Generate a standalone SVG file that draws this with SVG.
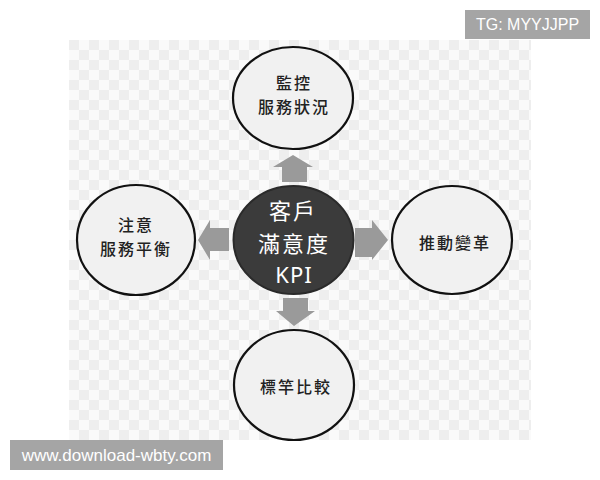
<svg xmlns="http://www.w3.org/2000/svg" width="600" height="480" viewBox="0 0 600 480">
  <defs>
    <pattern id="checker" x="69" y="40" width="20" height="20" patternUnits="userSpaceOnUse">
      <rect width="20" height="20" fill="#fafafa"/>
      <rect width="10" height="10" fill="#eeeeee"/>
      <rect x="10" y="10" width="10" height="10" fill="#eeeeee"/>
    </pattern>
    <style>
      .node { fill: #f1f1f1; stroke: #111; stroke-width: 2.2; }
      .hub { fill: #3b3b3b; stroke: #2a2a2a; stroke-width: 2; }
      .lbl { font-family: "Noto Sans CJK TC", "Noto Sans CJK SC", sans-serif; font-size: 16px; font-weight: 500; letter-spacing: 2px; fill: #222; text-anchor: middle; dominant-baseline: central; }
      .hubt { font-family: "Noto Sans CJK TC", "Noto Sans CJK SC", sans-serif; font-size: 22px; letter-spacing: 2px; fill: #ffffff; text-anchor: middle; dominant-baseline: central; }
      .arrow { fill: #9a9a9a; }
      .wm { fill: #a5a5a5; }
      .wmt { font-family: "Liberation Sans", Arial, sans-serif; fill: #ffffff; text-anchor: middle; }
    </style>
  </defs>
  <rect width="600" height="480" fill="#ffffff"/>
  <rect x="69" y="40" width="462" height="400" fill="url(#checker)"/>

  <g id="connectors">
    <polygon class="arrow" points="293,155 313,167 307,167 307,182 282,182 282,167 273,167"/>
    <polygon class="arrow" points="294,326 315,311 308,311 308,298 283,298 283,311 276,311"/>
    <polygon class="arrow" points="198,240 210,220 210,228 229,228 229,251 210,251 210,260"/>
    <polygon class="arrow" points="388,240 372,220 372,228 355,228 355,257 372,257 372,260"/>
  </g>

  <g id="node-top">
    <ellipse class="node" cx="293" cy="98" rx="60" ry="51"/>
    <text class="lbl" x="294" y="82">監控</text>
    <text class="lbl" x="294" y="106">服務狀況</text>
  </g>
  <g id="node-left">
    <ellipse class="node" cx="136" cy="240" rx="59" ry="55"/>
    <text class="lbl" x="136" y="224">注意</text>
    <text class="lbl" x="136" y="248">服務平衡</text>
  </g>
  <g id="node-right">
    <ellipse class="node" cx="452" cy="240" rx="60" ry="54"/>
    <text class="lbl" x="455" y="242">推動變革</text>
  </g>
  <g id="node-bottom">
    <ellipse class="node" cx="294" cy="385" rx="60" ry="55"/>
    <text class="lbl" x="296" y="386">標竿比較</text>
  </g>
  <g id="node-center">
    <ellipse class="hub" cx="293.5" cy="240" rx="60" ry="54"/>
    <text class="hubt" x="293" y="209">客戶</text>
    <text class="hubt" x="294" y="242">滿意度</text>
    <text class="hubt" x="294" y="274" style="font-family: 'Noto Sans', 'Open Sans', sans-serif; letter-spacing: 1px;">KPI</text>
  </g>

  <g id="watermark-tg">
    <rect class="wm" x="465" y="10" width="125" height="29"/>
    <text class="wmt" x="527.5" y="30" font-size="16">TG: MYYJJPP</text>
  </g>
  <g id="watermark-url">
    <rect class="wm" x="10" y="440" width="213" height="30"/>
    <text class="wmt" x="116.5" y="461" font-size="17">www.download-wbty.com</text>
  </g>
</svg>
